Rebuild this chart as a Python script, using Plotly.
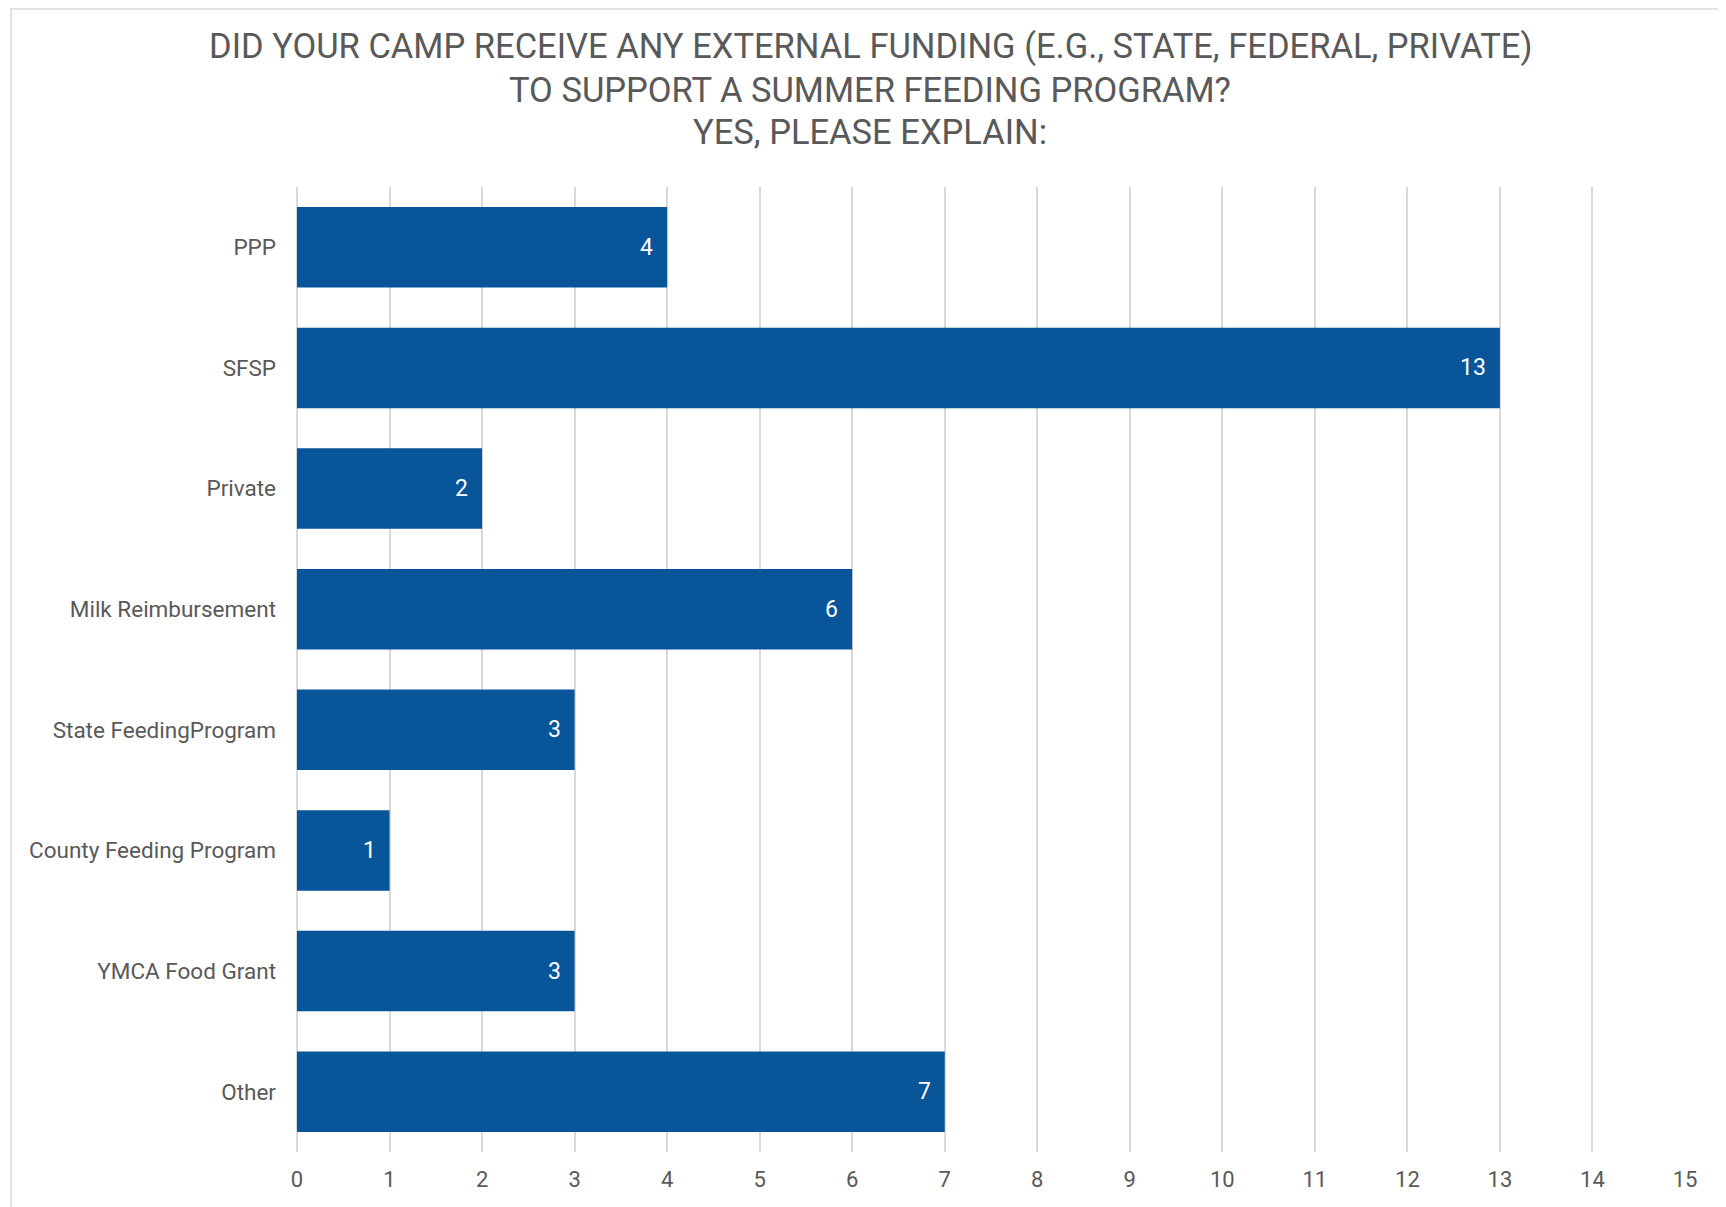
import plotly.graph_objects as go

categories = ["PPP", "SFSP", "Private", "Milk Reimbursement", "State FeedingProgram",
              "County Feeding Program", "YMCA Food Grant", "Other"]
values = [4, 13, 2, 6, 3, 1, 3, 7]
x_ticks = list(range(0, 16))
title_lines = ["DID YOUR CAMP RECEIVE ANY EXTERNAL FUNDING (E.G., STATE, FEDERAL, PRIVATE)",
               "TO SUPPORT A SUMMER FEEDING PROGRAM?",
               "YES, PLEASE EXPLAIN:"]

BAR = "#08559A"
GRAY_TXT = "#595959"
GRID = "#D9D9D9"
FONT = "Roboto"

fig = go.Figure(go.Bar(
    x=values, y=categories, orientation="h",
    marker=dict(color=BAR, line=dict(width=0)),
    hoverinfo="skip",
))

W, H = 1726, 1207
OFF = 8  # page body margin
L, R, T, B = 297 - OFF, 41 + OFF, 187 - OFF, 55 + OFF
pw, ph = W - L - R, H - T - B

def px_to_paper_x(px):
    return (px - OFF - L) / pw

def px_to_paper_y(py):
    return (H - B - (py - OFF)) / ph

annotations = []
for line, yc in zip(title_lines, [47, 90, 132]):
    annotations.append(dict(
        text=line, xref="paper", yref="paper",
        x=px_to_paper_x(870), y=px_to_paper_y(yc),
        xanchor="center", yanchor="middle", showarrow=False,
        font=dict(family=FONT, size=34.5, color=GRAY_TXT),
    ))

for cat, v in zip(categories, values):
    annotations.append(dict(
        text=str(v), x=v, y=cat, xref="x", yref="y",
        xanchor="right", yanchor="middle", xshift=-12, showarrow=False,
        font=dict(family=FONT, size=23, color="white"),
    ))

fig.update_layout(
    width=W, height=H,
    margin=dict(l=L, r=R, t=T, b=B, pad=0),
    paper_bgcolor="white", plot_bgcolor="white",
    bargap=0.333,
    showlegend=False,
    annotations=annotations,
    shapes=[dict(type="rect", xref="paper", yref="paper",
                 x0=px_to_paper_x(11), x1=px_to_paper_x(1745),
                 y0=px_to_paper_y(1225), y1=px_to_paper_y(9),
                 line=dict(color=GRID, width=1.5), fillcolor="rgba(0,0,0,0)",
                 layer="below")],
    xaxis=dict(range=[0, 15], tickvals=x_ticks, showgrid=True, gridcolor=GRID,
               gridwidth=1.5, zeroline=True, zerolinecolor=GRID, zerolinewidth=1.5,
               showline=False, ticks="", ticklabelstandoff=12,
               tickfont=dict(family=FONT, size=22, color=GRAY_TXT)),
    yaxis=dict(autorange="reversed", showgrid=False, zeroline=False, showline=False,
               ticks="", ticklabelstandoff=20,
               tickfont=dict(family=FONT, size=22.5, color=GRAY_TXT)),
)

fig.write_html("out.html")
